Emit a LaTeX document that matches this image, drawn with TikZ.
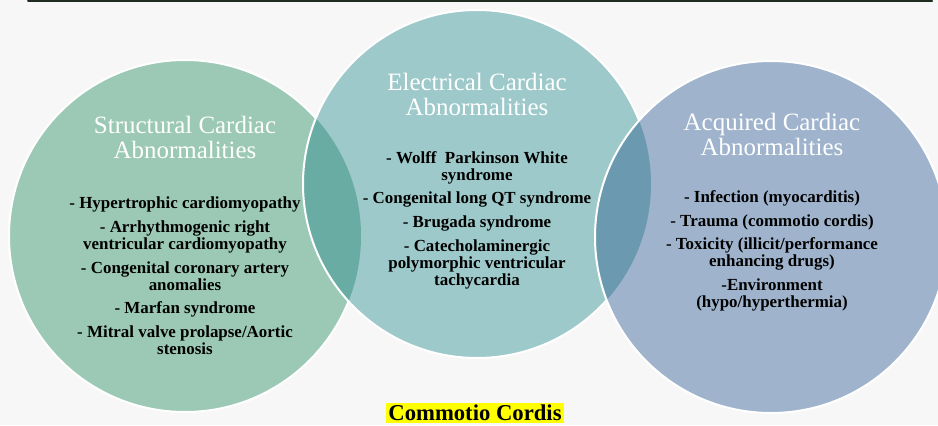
\documentclass[tikz,border=0pt]{standalone}
\usepackage{fontspec}
\setmainfont{Liberation Serif}
\usepackage{tikz}
\usetikzlibrary{positioning}
\definecolor{bgpage}{HTML}{F7F7F7}
\definecolor{structfill}{HTML}{9CC9B5}
\definecolor{elecfill}{HTML}{9EC9CA}
\definecolor{acqfill}{HTML}{9FB4CC}
\definecolor{overlapone}{HTML}{68ACA3}
\definecolor{overlaptwo}{HTML}{6B9AB0}
\definecolor{topline}{HTML}{1E2B1E}
\definecolor{marker}{HTML}{FFFF00}
\tikzset{
  every picture/.style={line join=round, line cap=round},
  ring/.style={draw=white, line width=1.5pt},
  heading/.style={text=white, font=\fontsize{18.7}{18.75}\selectfont, align=center},
  items/.style={text=black, font=\bfseries\fontsize{12.7}{12.75}\selectfont, align=center},
}

\begin{document}
\begin{tikzpicture}[x=0.75pt,y=0.75pt]
\fill[bgpage](0,0)rectangle(938,-425);
\useasboundingbox(0,0)rectangle(938,-425);
\clip(0,0)rectangle(938,-425);
\coordinate(lend)at(28,-1);
\coordinate(rend)at(932,-1);
\draw[topline,line width=1.5pt](lend)--(rend);
% circles
\coordinate(cs)at(185,-236);
\coordinate(ce)at(477,-184);
\coordinate(ca)at(771,-237);
\path[fill=structfill,ring](cs)circle(176);
\fill[elecfill](ce)circle(174);
\begin{scope}
\clip(cs)circle(176);
\fill[overlapone](ce)circle(174);
\end{scope}
\draw[ring](ce)circle(174);
\fill[acqfill](ca)circle(176);
\begin{scope}
\clip(ce)circle(174);
\fill[overlaptwo](ca)circle(176);
\end{scope}
\draw[ring](ca)circle(176);
% texts
\node[heading](stitle)at(185,-137){Structural Cardiac\\Abnormalities};
\node[items](slist)at(185,-276){- Hypertrophic cardiomyopathy\\[5pt]
- Arrhythmogenic right\\ventricular cardiomyopathy\\[5pt]
- Congenital coronary artery\\anomalies\\[5pt]
- Marfan syndrome\\[5pt]
- Mitral valve prolapse/Aortic\\stenosis};
\node[heading](etitle)at(477,-94){Electrical Cardiac\\Abnormalities};
\node[items](elist)at(477,-220){- Wolff~ Parkinson White\\syndrome\\[5pt]
- Congenital long QT syndrome\\[5pt]
- Brugada syndrome\\[5pt]
- Catecholaminergic\\polymorphic ventricular\\tachycardia};
\node[heading](atitle)at(772,-134){Acquired Cardiac\\Abnormalities};
\node[items](alist)at(772,-251){- Infection (myocarditis)\\[5pt]
- Trauma (commotio cordis)\\[5pt]
- Toxicity (illicit/performance\\enhancing drugs)\\[5pt]
-Environment\\(hypo/hyperthermia)};
\node[fill=marker,font=\bfseries\fontsize{17}{18}\selectfont,inner sep=1.5pt](tag)at(475,-413){Commotio Cordis};
\end{tikzpicture}
\end{document}
